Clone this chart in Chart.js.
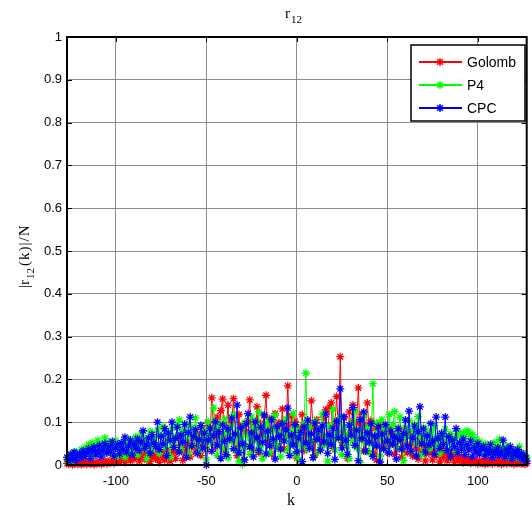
<!DOCTYPE html>
<html lang="en">
<head>
    <meta charset="UTF-8">
    <title>r12 cross-correlation</title>
    <script src="https://cdn.jsdelivr.net/npm/chart.js"></script>
    <style>
        html, body {margin: 0; padding: 0; background: #fff;}
        #wrap {width: 532px; height: 510px;}
    </style>
</head>
<body>
    <div id="wrap">
        <canvas id="corr_canvas" width="532" height="510"></canvas>
    </div>
    <script>
        // lag range and tick labels
        const kMin = -127;
        const kMax = 127;
        const xTicks = [-100, -50, 0, 50, 100];
        const yTicks = [0, 0.1, 0.2, 0.3, 0.4, 0.5, 0.6, 0.7, 0.8, 0.9, 1];

        const seriesNames = ["Golomb", "P4", "CPC"];
        const seriesColors = ["#ff0000", "#00ff00", "#0000ff"];

        // |r12(k)|/N, k = -127 .. 127
        const golomb = [
            0.004,0.002,0.006,0.001,0.003,0.007,0.002,0.005,0.001,0.004,
            0.006,0.002,0.008,0.003,0.005,0.001,0.007,0.004,0.009,0.002,
            0.005,0.010,0.003,0.008,0.006,0.012,0.004,0.009,0.014,0.007,
            0.011,0.018,0.006,0.015,0.022,0.010,0.025,0.013,0.019,0.028,
            0.009,0.021,0.016,0.030,0.012,0.024,0.008,0.019,0.027,0.014,
            0.022,0.006,0.031,0.017,0.012,0.035,0.020,0.009,0.028,0.041,
            0.015,0.033,0.065,0.046,0.011,0.038,0.027,0.052,0.019,0.043,
            0.061,0.030,0.072,0.048,0.022,0.084,0.056,0.036,0.098,0.063,
            0.157,0.085,0.041,0.112,0.068,0.127,0.154,0.032,0.090,0.140,
            0.058,0.101,0.155,0.074,0.022,0.118,0.046,0.093,0.012,0.079,
            0.104,0.152,0.037,0.088,0.061,0.136,0.029,0.097,0.072,0.115,
            0.163,0.054,0.108,0.026,0.083,0.120,0.045,0.099,0.067,0.131,
            0.038,0.092,0.185,0.070,0.114,0.049,0.102,0.016,0.087,0.060,
            0.118,0.034,0.095,0.071,0.052,0.150,0.089,0.024,0.106,0.063,
            0.081,0.047,0.112,0.129,0.058,0.135,0.145,0.039,0.098,0.160,
            0.076,0.253,0.052,0.110,0.068,0.015,0.124,0.081,0.140,0.046,
            0.097,0.180,0.062,0.118,0.033,0.089,0.145,0.071,0.104,0.028,
            0.085,0.012,0.066,0.097,0.041,0.078,0.055,0.030,0.087,0.048,
            0.072,0.025,0.061,0.039,0.083,0.018,0.054,0.067,0.029,0.046,
            0.075,0.021,0.052,0.037,0.014,0.058,0.031,0.044,0.009,0.036,
            0.027,0.048,0.012,0.033,0.022,0.041,0.007,0.029,0.018,0.035,
            0.010,0.024,0.016,0.030,0.006,0.021,0.013,0.009,0.018,0.005,
            0.012,0.008,0.015,0.004,0.010,0.007,0.013,0.003,0.009,0.006,
            0.011,0.002,0.008,0.005,0.012,0.003,0.007,0.009,0.004,0.010,
            0.002,0.006,0.008,0.003,0.011,0.005,0.007,0.002,0.009,0.004,
            0.006,0.003,0.008,0.002,0.004
        ];
        const p4 = [
            0.012,0.021,0.008,0.026,0.015,0.031,0.019,0.024,0.036,0.022,
            0.041,0.028,0.047,0.033,0.052,0.025,0.044,0.058,0.037,0.049,
            0.030,0.063,0.045,0.054,0.027,0.048,0.039,0.057,0.021,0.043,
            0.035,0.050,0.018,0.046,0.061,0.029,0.052,0.040,0.066,0.024,
            0.055,0.072,0.038,0.060,0.015,0.049,0.078,0.034,0.063,0.045,
            0.082,0.027,0.069,0.090,0.041,0.058,0.075,0.019,0.086,0.052,
            0.067,0.094,0.105,0.038,0.081,0.060,0.097,0.025,0.072,0.088,
            0.046,0.110,0.064,0.031,0.092,0.057,0.079,0.012,0.101,0.070,
            0.048,0.133,0.085,0.022,0.096,0.061,0.039,0.107,0.074,0.017,
            0.090,0.055,0.118,0.034,0.078,0.009,0.066,0.002,0.099,0.043,
            0.071,0.025,0.112,0.058,0.087,0.036,0.124,0.047,0.015,0.093,
            0.068,0.103,0.029,0.082,0.054,0.116,0.040,0.075,0.020,0.097,
            0.063,0.108,0.033,0.079,0.050,0.121,0.026,0.085,0.012,0.069,
            0.044,0.096,0.215,0.037,0.088,0.058,0.018,0.102,0.071,0.030,
            0.084,0.119,0.047,0.066,0.009,0.092,0.056,0.130,0.035,0.077,
            0.061,0.110,0.024,0.089,0.048,0.073,0.015,0.098,0.057,0.126,
            0.040,0.082,0.006,0.069,0.115,0.052,0.087,0.029,0.060,0.190,
            0.045,0.098,0.070,0.021,0.106,0.063,0.084,0.037,0.118,0.055,
            0.093,0.125,0.041,0.076,0.112,0.058,0.010,0.087,0.066,0.104,
            0.032,0.079,0.095,0.050,0.113,0.068,0.024,0.088,0.057,0.073,
            0.038,0.081,0.061,0.092,0.045,0.070,0.028,0.066,0.054,0.084,
            0.036,0.059,0.073,0.047,0.064,0.031,0.078,0.052,0.069,0.075,
            0.042,0.080,0.077,0.066,0.071,0.048,0.060,0.035,0.055,0.044,
            0.038,0.050,0.029,0.046,0.041,0.033,0.052,0.027,0.044,0.060,
            0.031,0.039,0.025,0.045,0.020,0.036,0.028,0.017,0.033,0.024,
            0.043,0.015,0.026,0.011,0.018
        ];
        const cpc = [
            0.018,0.009,0.025,0.014,0.030,0.011,0.022,0.027,0.016,0.033,
            0.020,0.028,0.038,0.015,0.034,0.042,0.024,0.031,0.046,0.019,
            0.037,0.050,0.028,0.043,0.033,0.055,0.021,0.040,0.048,0.026,
            0.052,0.036,0.065,0.030,0.044,0.058,0.023,0.049,0.040,0.061,
            0.034,0.054,0.080,0.039,0.047,0.063,0.028,0.071,0.052,0.043,
            0.100,0.036,0.067,0.049,0.085,0.022,0.074,0.058,0.100,0.041,
            0.062,0.088,0.030,0.070,0.053,0.095,0.018,0.076,0.112,0.045,
            0.067,0.083,0.027,0.059,0.092,0.040,0.074,0.000,0.058,0.086,
            0.032,0.069,0.101,0.047,0.078,0.015,0.093,0.055,0.024,0.084,
            0.061,0.110,0.038,0.072,0.140,0.029,0.087,0.050,0.012,0.096,
            0.120,0.043,0.075,0.019,0.101,0.064,0.034,0.088,0.053,0.117,
            0.026,0.079,0.045,0.106,0.060,0.014,0.090,0.068,0.037,0.097,
            0.056,0.082,0.133,0.022,0.070,0.047,0.094,0.031,0.063,0.076,
            0.008,0.089,0.052,0.105,0.039,0.073,0.017,0.098,0.060,0.082,
            0.035,0.091,0.054,0.119,0.027,0.071,0.048,0.086,0.013,0.102,
            0.064,0.178,0.040,0.113,0.058,0.025,0.093,0.070,0.134,0.046,
            0.081,0.010,0.106,0.062,0.124,0.033,0.075,0.053,0.097,0.020,
            0.068,0.045,0.089,0.007,0.072,0.038,0.094,0.056,0.028,0.079,
            0.049,0.066,0.014,0.085,0.059,0.037,0.073,0.105,0.044,0.126,
            0.032,0.063,0.091,0.021,0.078,0.136,0.050,0.084,0.030,0.068,
            0.046,0.097,0.057,0.025,0.112,0.061,0.039,0.074,0.048,0.112,
            0.034,0.066,0.020,0.058,0.043,0.085,0.029,0.052,0.037,0.061,
            0.024,0.047,0.035,0.056,0.019,0.041,0.030,0.050,0.026,0.038,
            0.044,0.021,0.036,0.029,0.048,0.017,0.033,0.025,0.040,0.022,
            0.031,0.058,0.019,0.037,0.027,0.043,0.015,0.032,0.024,0.036,
            0.018,0.028,0.012,0.021,0.009
        ];
        const seriesValues = [golomb, p4, cpc];

        const SANS = "'Liberation Sans', Arial, sans-serif";
        const SERIF = "'Liberation Serif', 'Times New Roman', serif";

        const toPoints = (vals) => vals.map((v, i) => ({x: kMin + i, y: v}));

        // draw "base" + subscript, left aligned at x, returns end x
        function drawSub(ctx, base, sub, x, y, size) {
            ctx.font = size + "px " + SERIF;
            ctx.fillText(base, x, y);
            x += ctx.measureText(base).width + 1;
            ctx.font = Math.round(size * 0.72) + "px " + SERIF;
            ctx.fillText(sub, x, y + size * 0.35);
            x += ctx.measureText(sub).width + 1;
            return x;
        }

        const matlabFrame = {
            id: "matlabFrame",
            afterDatasetsDraw(chart) {
                const ctx = chart.ctx;
                const a = chart.chartArea;
                const xs = chart.scales.x, ys = chart.scales.y;
                ctx.save();
                // box
                ctx.strokeStyle = "#000";
                ctx.lineWidth = 2;
                ctx.strokeRect(a.left, a.top, a.right - a.left, a.bottom - a.top);
                // inward ticks
                ctx.lineWidth = 1;
                ctx.beginPath();
                xTicks.forEach(v => {
                    const px = Math.round(xs.getPixelForValue(v)) + 0.5;
                    ctx.moveTo(px, a.bottom); ctx.lineTo(px, a.bottom - 5);
                    ctx.moveTo(px, a.top); ctx.lineTo(px, a.top + 5);
                });
                yTicks.forEach(v => {
                    const py = Math.round(ys.getPixelForValue(v)) + 0.5;
                    ctx.moveTo(a.left, py); ctx.lineTo(a.left + 5, py);
                    ctx.moveTo(a.right, py); ctx.lineTo(a.right - 5, py);
                });
                ctx.stroke();
                ctx.restore();

                // legend
                ctx.save();
                const lx = 411, ly = 45, lw = 114, lh = 76;
                ctx.fillStyle = "#fff";
                ctx.fillRect(lx, ly, lw, lh);
                ctx.lineWidth = 1.5;
                ctx.strokeStyle = "#000";
                ctx.strokeRect(lx, ly, lw, lh);
                const rows = [61, 84, 107];
                seriesNames.forEach((name, i) => {
                    const y = rows[i];
                    ctx.save();
                    ctx.fillStyle = seriesColors[i];
                    ctx.fillRect(419, y, 43, 2);
                    ctx.strokeStyle = seriesColors[i];
                    Chart.helpers.drawPoint(ctx, {pointStyle: "star", radius: 4, borderWidth: 1.2}, 440, y + 1);
                    ctx.restore();
                    ctx.fillStyle = "#000";
                    ctx.font = "14px " + SANS;
                    ctx.textBaseline = "middle";
                    ctx.textAlign = "left";
                    ctx.fillText(name, 467, y + 2);
                });
                ctx.restore();

                // title, axis labels
                ctx.save();
                ctx.fillStyle = "#000";
                ctx.textBaseline = "alphabetic";
                ctx.textAlign = "left";
                drawSub(ctx, "r", "12", 285, 18, 15);
                ctx.font = "16px " + SERIF;
                ctx.textAlign = "center";
                ctx.fillText("k", 291, 505);

                ctx.translate(29, 288);
                ctx.rotate(-Math.PI / 2);
                ctx.textAlign = "left";
                const x = drawSub(ctx, "|r", "12", 0, 0, 15);
                ctx.letterSpacing = "1px";
                ctx.font = "15px " + SERIF;
                ctx.fillText("(k)|/N", x + 1, 0);
                ctx.restore();
            }
        };

        const datasets = seriesNames.map((name, i) => ({
            label: name,
            data: toPoints(seriesValues[i]),
            borderColor: seriesColors[i],
            backgroundColor: seriesColors[i],
            borderWidth: 1,
            pointStyle: "star",
            pointRadius: 4,
            pointBorderWidth: 1.3,
            pointBorderColor: seriesColors[i],
            tension: 0,
            clip: false,
            order: 3 - i
        }));

        const corrChart = new Chart(document.getElementById("corr_canvas"), {
            type: "line",
            data: {datasets: datasets},
            plugins: [matlabFrame],
            options: {
                responsive: false,
                animation: false,
                devicePixelRatio: 1,
                layout: {padding: {left: 0, right: 5, top: 37, bottom: 0}},
                plugins: {legend: {display: false}, title: {display: false}, tooltip: {enabled: false}},
                scales: {
                    x: {
                        type: "linear",
                        min: kMin,
                        max: kMax,
                        afterBuildTicks: (s) => { s.ticks = xTicks.map(v => ({value: v})); },
                        afterFit: (s) => { s.height = 45; },
                        grid: {color: "#8c8c8c", lineWidth: 1, drawTicks: false},
                        border: {display: false},
                        ticks: {color: "#000", font: {family: SANS, size: 13}, padding: 9, maxRotation: 0, autoSkip: false}
                    },
                    y: {
                        type: "linear",
                        min: 0,
                        max: 1,
                        afterBuildTicks: (s) => { s.ticks = yTicks.map(v => ({value: v})); },
                        afterFit: (s) => { s.width = 67; },
                        grid: {color: "#8c8c8c", lineWidth: 1, drawTicks: false},
                        border: {display: false},
                        ticks: {color: "#000", font: {family: SANS, size: 13}, padding: 5, autoSkip: false,
                            callback: (v) => String(v)}
                    }
                }
            }
        });
    </script>
</body>
</html>
